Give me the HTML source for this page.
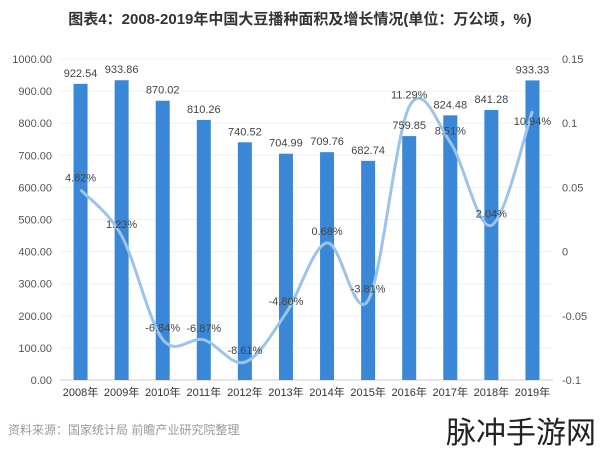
<!DOCTYPE html>
<html><head><meta charset="utf-8">
<style>
body{margin:0;background:#fff;width:600px;height:450px;overflow:hidden;font-family:"Liberation Sans","Noto Sans CJK SC",sans-serif}
svg text{font-family:"Liberation Sans","Noto Sans CJK SC",sans-serif}
</style></head>
<body>
<svg id="chart" width="600" height="450" viewBox="0 0 600 450">
<text x="300" y="24" text-anchor="middle" font-size="15" font-weight="bold" fill="#333">图表4：2008-2019年中国大豆播种面积及增长情况(单位：万公顷，%)</text>
<g id="grid"></g><g id="bars"></g><g id="line"></g><g id="labels"></g><g id="axes"></g>
<text x="8" y="434" font-size="12" fill="#999">资料来源：国家统计局 前瞻产业研究院整理</text>
<text x="596" y="443" text-anchor="end" font-size="30" fill="#222">脉冲手游网</text>
</svg>
<script>
const categories=["2008年","2009年","2010年","2011年","2012年","2013年","2014年","2015年","2016年","2017年","2018年","2019年"];
const areaValues=[922.54,933.86,870.02,810.26,740.52,704.99,709.76,682.74,759.85,824.48,841.28,933.33];
const growthValues=[4.82,1.23,-6.84,-6.87,-8.61,-4.80,0.68,-3.81,11.29,8.51,2.04,10.94];
const leftTicks=[0,100,200,300,400,500,600,700,800,900,1000];
const rightTicks=[-0.1,-0.05,0,0.05,0.1,0.15];
const rightTickLabels=["-0.1","-0.05","0","0.05","0.1","0.15"];
const NS="http://www.w3.org/2000/svg";
const top0=59,bot=380,x0=60,x1=553;
const yL=v=>bot-(v/1000)*(bot-top0);
const yR=v=>bot-((v+0.1)/0.25)*(bot-top0);
const bw=(x1-x0)/categories.length;
const xC=i=>x0+bw*(i+0.5);
function mk(tag,attrs,parent,text){const e=document.createElementNS(NS,tag);for(const k in attrs)e.setAttribute(k,attrs[k]);if(text!==undefined)e.textContent=text;document.getElementById(parent).appendChild(e);return e;}
leftTicks.forEach(t=>{
 const g=mk('line',{x1:x0,x2:x1,y1:yL(t),y2:yL(t),stroke:t===0?'#ccc':'#f0f0f0','stroke-width':1},'grid');
 
 
 const l=mk('text',{x:52,y:yL(t)+4,'text-anchor':'end','font-size':11,fill:'#555'},'axes',t.toFixed(2));
 
 
});
rightTicks.forEach((t,i)=>{
 const l=mk('text',{x:562,y:yR(t)+4,'font-size':11,fill:'#555'},'axes',rightTickLabels[i]);
 
 
});
categories.forEach((c,i)=>{
 const b=mk('rect',{x:xC(i)-7,y:yL(areaValues[i]),width:14,height:bot-yL(areaValues[i]),fill:'#3a87d8'},'bars');
 
 
 const v=mk('text',{x:xC(i),y:yL(areaValues[i])-7,'text-anchor':'middle','font-size':11,fill:'#444'},'labels',areaValues[i].toFixed(2));
 
 
 const x=mk('text',{x:xC(i),y:396,'text-anchor':'middle','font-size':11,fill:'#333'},'axes',c);
 
 
});
const pts=growthValues.map((v,i)=>[xC(i),yR(v/100)]);
let d='M'+pts[0][0]+','+pts[0][1];
for(let i=0;i<pts.length-1;i++){
 const p0=pts[Math.max(i-1,0)],p1=pts[i],p2=pts[i+1],p3=pts[Math.min(i+2,pts.length-1)];
 const c1=[p1[0]+(p2[0]-p0[0])/6,p1[1]+(p2[1]-p0[1])/6],c2=[p2[0]-(p3[0]-p1[0])/6,p2[1]-(p3[1]-p1[1])/6];
 d+=` C${c1[0]},${c1[1]} ${c2[0]},${c2[1]} ${p2[0]},${p2[1]}`;
}
const ln=mk('path',{d:d,fill:'none',stroke:'#9cc4ea','stroke-width':3},'line');


growthValues.forEach((v,i)=>{
 const t=mk('text',{x:xC(i),y:yR(v/100)+(i===11?14:-8),'text-anchor':'middle','font-size':11,fill:'#444'},'labels',v.toFixed(2)+'%');
 
 
});
</script>
</body></html>
